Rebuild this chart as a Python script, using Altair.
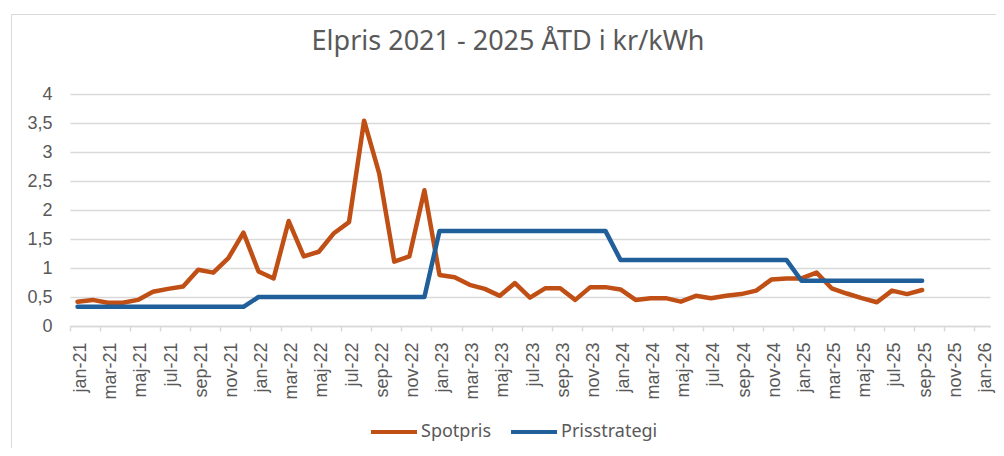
import altair as alt
import pandas as pd

# ---------------- data ----------------
month_names = ["jan", "feb", "mar", "apr", "maj", "jun", "jul", "aug", "sep", "okt", "nov", "dec"]
years = ["21", "22", "23", "24", "25", "26"]
all_months = [f"{m}-{y}" for y in years for m in month_names][:61]   # jan-21 .. jan-26
tick_labels = all_months[::2]                                          # jan, mar, maj, ...

spotpris = [
    0.42, 0.45, 0.40, 0.40, 0.45, 0.59, 0.64, 0.68, 0.97, 0.92, 1.17, 1.61,
    0.94, 0.82, 1.81, 1.20, 1.28, 1.60, 1.79, 3.54, 2.63, 1.11, 1.20, 2.34,
    0.88, 0.84, 0.71, 0.64, 0.52, 0.74, 0.49, 0.65, 0.65, 0.45, 0.67, 0.67,
    0.63, 0.45, 0.48, 0.48, 0.42, 0.52, 0.48, 0.52, 0.55, 0.61, 0.80, 0.82,
    0.82, 0.92, 0.65, 0.56, 0.48, 0.41, 0.61, 0.55, 0.62,
]
prisstrategi = (
    [0.33] * 12 + [0.50] * 12 + [1.64] * 12 + [1.14] * 12 + [0.78] * 9
)
series_names = ["Spotpris", "Prisstrategi"]
series_colors = ["#C04F15", "#215F9A"]
y_ticks = [0, 0.5, 1, 1.5, 2, 2.5, 3, 3.5, 4]

rows = []
for name, vals in zip(series_names, [spotpris, prisstrategi]):
    for i, v in enumerate(vals):
        rows.append({"month": all_months[i], "value": v, "series": name})
df = pd.DataFrame(rows)

GRAY = "#d9d9d9"
TXT = "#595959"

lines = alt.Chart(df).mark_line(
    strokeWidth=4.5, strokeJoin="round", strokeCap="round"
).encode(
    x=alt.X(
        "month:O",
        sort=all_months,
        scale=alt.Scale(type="band", domain=all_months, paddingInner=0, paddingOuter=0),
        axis=alt.Axis(
            values=tick_labels, bandPosition=0, labelAngle=-90, labelOffset=3.5,
            labelPadding=11, tickSize=5, tickColor=GRAY, tickWidth=1.5,
            domainColor=GRAY, domainWidth=1.5, grid=False, title=None,
            labelFontSize=18, labelColor=TXT, labelFont="Liberation Sans",
        ),
    ),
    y=alt.Y(
        "value:Q",
        scale=alt.Scale(domain=[0, 4], nice=False),
        axis=alt.Axis(
            values=y_ticks,
            labelExpr="replace(format(datum.value, '~g'), '.', ',')",
            domain=False, ticks=False, tickSize=0, labelPadding=18,
            gridColor=GRAY, gridWidth=1.5, title=None,
            labelFontSize=18, labelColor=TXT, labelFont="Liberation Sans",
        ),
    ),
    color=alt.Color(
        "series:N",
        sort=series_names,
        scale=alt.Scale(domain=series_names, range=series_colors),
        legend=alt.Legend(
            orient="none", legendX=299, legendY=313, direction="horizontal",
            title=None, symbolType="stroke", symbolSize=2116, symbolStrokeWidth=4,
            labelFontSize=18, labelFont="Noto Sans", labelColor=TXT,
            columnPadding=11, labelOffset=2, padding=0,
        ),
    ),
)

frame = alt.Chart(pd.DataFrame({"f": [0]})).mark_rect(
    fill="transparent", stroke=GRAY, strokeWidth=1
).encode(
    x=alt.value(-58.5), x2=alt.value(1000), y=alt.value(-79.5), y2=alt.value(400)
)

chart = alt.layer(frame, lines).properties(
    width=920,
    height=232,
    padding={"left": 62, "top": 86, "right": 6, "bottom": 122},
    autosize=alt.AutoSizeParams(type="none"),
    title=alt.TitleParams(
        text="Elpris 2021 - 2025 ÅTD i kr/kWh",
        fontSize=27, font="Noto Sans", fontWeight="normal", color=TXT,
        anchor="middle", frame="group", dx=-22, offset=-63, baseline="alphabetic",
    ),
).configure_view(stroke=None)

chart.save("out.html", embed_options={"renderer": "svg", "actions": False})
